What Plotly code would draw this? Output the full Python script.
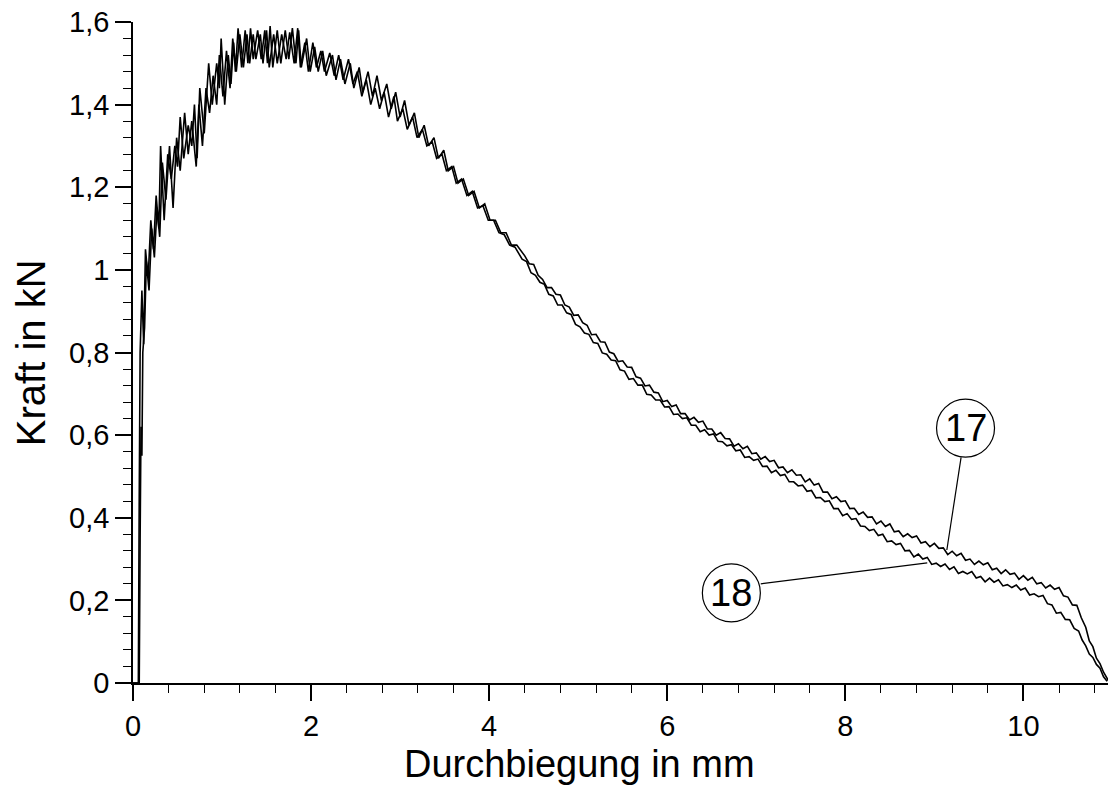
import plotly.graph_objects as go

# ---- data (curve 17 and curve 18) ----
x17 = [0.00, 0.06, 0.07, 0.08, 0.10, 0.12, 0.14, 0.17, 0.20, 0.23, 0.26, 0.29, 0.31, 0.35, 0.39, 0.43,
       0.47, 0.50, 0.53, 0.57, 0.62, 0.66, 0.69, 0.72, 0.75, 0.80, 0.85, 0.89, 0.94, 0.97, 0.99, 1.03,
       1.07, 1.10, 1.13, 1.15, 1.18, 1.22, 1.26, 1.29, 1.32, 1.35, 1.40, 1.44, 1.48, 1.51, 1.54, 1.57,
       1.62, 1.66, 1.71, 1.75, 1.79, 1.83, 1.86, 1.89, 1.95, 1.99, 2.04, 2.08, 2.13, 2.17, 2.24, 2.28,
       2.33, 2.38, 2.44, 2.48, 2.54, 2.58, 2.64, 2.69, 2.74, 2.79, 2.85, 2.90, 2.95, 3.00, 3.05, 3.10,
       3.16, 3.21, 3.27, 3.32, 3.38, 3.43, 3.49, 3.54, 3.60, 3.65, 3.71, 3.77, 3.83, 3.89, 3.95, 4.01,
       4.07, 4.13, 4.19, 4.25, 4.31,
       4.40, 4.45, 4.50, 4.55, 4.60, 4.65, 4.70, 4.75, 4.80, 4.85, 4.90, 4.95, 5.00, 5.05, 5.10, 5.15,
       5.20, 5.25, 5.30, 5.35, 5.40, 5.45, 5.50, 5.55, 5.60, 5.65, 5.70, 5.75, 5.80, 5.85, 5.90, 5.95,
       6.00, 6.05, 6.10, 6.15, 6.20, 6.25, 6.30, 6.35, 6.40, 6.45, 6.50, 6.55, 6.60, 6.65, 6.70, 6.75,
       6.80, 6.85, 6.90, 6.95, 7.00, 7.05, 7.10, 7.15, 7.20, 7.25, 7.30, 7.35, 7.40, 7.45, 7.50, 7.55,
       7.60, 7.65, 7.70, 7.75, 7.80, 7.85, 7.90, 7.95, 8.00, 8.05, 8.10, 8.15, 8.20, 8.25, 8.30, 8.35,
       8.40, 8.45, 8.50, 8.55, 8.60, 8.65, 8.70, 8.75, 8.80, 8.85, 8.90, 8.95, 9.00, 9.05, 9.10, 9.15,
       9.20, 9.25, 9.30, 9.35, 9.40, 9.45, 9.50, 9.55, 9.60, 9.65, 9.70, 9.75, 9.80, 9.85, 9.90, 9.95,
       10.00, 10.05, 10.10, 10.15, 10.20, 10.25, 10.30, 10.35, 10.40, 10.45, 10.50, 10.55, 10.60, 10.65,
       10.70, 10.74, 10.78, 10.82, 10.86, 10.90, 10.94, 10.97]
y17 = [0.00, 0.00, 0.45, 0.80, 0.95, 0.82, 1.05, 0.98, 1.12, 1.05, 1.18, 1.10, 1.30, 1.12, 1.28, 1.22,
       1.30, 1.25, 1.37, 1.27, 1.35, 1.30, 1.40, 1.27, 1.44, 1.33, 1.50, 1.40, 1.50, 1.44, 1.56, 1.40,
       1.52, 1.45, 1.55, 1.48, 1.585, 1.49, 1.58, 1.50, 1.585, 1.51, 1.58, 1.51, 1.58, 1.50, 1.59, 1.49,
       1.58, 1.50, 1.58, 1.51, 1.585, 1.50, 1.58, 1.49, 1.56, 1.48, 1.54, 1.48, 1.53, 1.47, 1.52, 1.46,
       1.51, 1.45, 1.50, 1.44, 1.49, 1.43, 1.48, 1.42, 1.47, 1.41, 1.45, 1.39, 1.43, 1.37, 1.41, 1.35,
       1.38, 1.32, 1.35, 1.30, 1.32, 1.27, 1.29, 1.24, 1.25, 1.21, 1.22, 1.18, 1.19, 1.15, 1.16, 1.12,
       1.12, 1.09, 1.09, 1.06, 1.06,
       1.034, 1.015, 1.013, 0.987, 0.977, 0.957, 0.957, 0.941, 0.939, 0.915, 0.910, 0.890, 0.891, 0.872, 0.866, 0.843,
       0.844, 0.826, 0.825, 0.801, 0.797, 0.778, 0.780, 0.765, 0.764, 0.741, 0.738, 0.719, 0.721, 0.704, 0.702, 0.681,
       0.684, 0.669, 0.673, 0.652, 0.652, 0.637, 0.643, 0.631, 0.634, 0.615, 0.615, 0.600, 0.606, 0.592, 0.591, 0.573,
       0.579, 0.567, 0.573, 0.555, 0.557, 0.542, 0.548, 0.536, 0.539, 0.521, 0.523, 0.509, 0.516, 0.503, 0.504, 0.487,
       0.494, 0.479, 0.483, 0.462, 0.462, 0.446, 0.451, 0.439, 0.441, 0.422, 0.423, 0.408, 0.414, 0.401, 0.402, 0.385,
       0.392, 0.379, 0.385, 0.366, 0.368, 0.354, 0.361, 0.352, 0.356, 0.339, 0.342, 0.330, 0.338, 0.326, 0.327, 0.311,
       0.319, 0.308, 0.314, 0.297, 0.300, 0.287, 0.295, 0.286, 0.291, 0.274, 0.278, 0.265, 0.274, 0.263, 0.266, 0.251,
       0.260, 0.249, 0.256, 0.240, 0.243, 0.230, 0.237, 0.227, 0.231, 0.211, 0.208, 0.189, 0.188, 0.158,
       0.135, 0.102, 0.088, 0.060, 0.047, 0.026, 0.012, 0.0]

x18 = [0.00, 0.07, 0.08, 0.09, 0.10, 0.11, 0.13, 0.15, 0.18, 0.21, 0.24, 0.27, 0.30, 0.33, 0.37, 0.41,
       0.45, 0.49, 0.53, 0.58, 0.62, 0.66, 0.71, 0.74, 0.78, 0.82, 0.86, 0.90, 0.94, 0.97, 1.01, 1.05,
       1.09, 1.12, 1.16, 1.20, 1.24, 1.28, 1.31, 1.35, 1.38, 1.43, 1.46, 1.50, 1.53, 1.58, 1.62, 1.67,
       1.72, 1.76, 1.81, 1.85, 1.88, 1.93, 1.97, 2.02, 2.06, 2.11, 2.15, 2.21, 2.26, 2.31, 2.36, 2.42,
       2.47, 2.52, 2.57, 2.62, 2.67, 2.72, 2.77, 2.82, 2.87, 2.93, 2.97, 3.03, 3.08, 3.14, 3.19, 3.25,
       3.30, 3.36, 3.41, 3.47, 3.52, 3.58, 3.63, 3.69, 3.75, 3.81, 3.87, 3.93, 3.99, 4.05, 4.11, 4.17,
       4.23, 4.29,
       4.37, 4.42, 4.47, 4.52, 4.57, 4.62, 4.67, 4.72, 4.77, 4.82, 4.87, 4.92, 4.97, 5.02, 5.07, 5.12,
       5.17, 5.22, 5.27, 5.32, 5.37, 5.42, 5.47, 5.52, 5.57, 5.62, 5.67, 5.72, 5.77, 5.82, 5.87, 5.92,
       5.97, 6.02, 6.07, 6.12, 6.17, 6.22, 6.27, 6.32, 6.37, 6.42, 6.47, 6.52, 6.57, 6.62, 6.67, 6.72,
       6.77, 6.82, 6.87, 6.92, 6.97, 7.02, 7.07, 7.12, 7.17, 7.22, 7.27, 7.32, 7.37, 7.42, 7.47, 7.52,
       7.57, 7.62, 7.67, 7.72, 7.77, 7.82, 7.87, 7.92, 7.97, 8.02, 8.07, 8.12, 8.17, 8.22, 8.27, 8.32,
       8.37, 8.42, 8.47, 8.52, 8.57, 8.62, 8.67, 8.72, 8.77, 8.82, 8.87, 8.92, 8.97, 9.02, 9.07, 9.12,
       9.17, 9.22, 9.27, 9.32, 9.37, 9.42, 9.47, 9.52, 9.57, 9.62, 9.67, 9.72, 9.77, 9.82, 9.87, 9.92,
       9.97, 10.02, 10.07, 10.12, 10.17, 10.22, 10.27, 10.32, 10.37, 10.42, 10.47, 10.52, 10.57, 10.62,
       10.66, 10.70, 10.74, 10.78, 10.82, 10.86, 10.90, 10.94]
y18 = [0.00, 0.00, 0.35, 0.62, 0.55, 0.80, 0.86, 1.02, 0.95, 1.10, 1.03, 1.15, 1.08, 1.26, 1.17, 1.30,
       1.15, 1.32, 1.24, 1.38, 1.28, 1.36, 1.25, 1.40, 1.30, 1.44, 1.38, 1.47, 1.40, 1.52, 1.42, 1.53,
       1.44, 1.56, 1.48, 1.57, 1.49, 1.57, 1.50, 1.57, 1.51, 1.57, 1.50, 1.58, 1.49, 1.57, 1.50, 1.57,
       1.51, 1.575, 1.50, 1.585, 1.49, 1.55, 1.48, 1.55, 1.49, 1.53, 1.48, 1.525, 1.47, 1.52, 1.46, 1.51,
       1.45, 1.48, 1.42, 1.46, 1.40, 1.44, 1.39, 1.43, 1.37, 1.42, 1.36, 1.39, 1.34, 1.37, 1.32, 1.34,
       1.30, 1.31, 1.27, 1.28, 1.24, 1.25, 1.21, 1.22, 1.18, 1.19, 1.15, 1.155, 1.12, 1.12, 1.09, 1.085,
       1.06, 1.055,
       1.026, 1.020, 0.993, 0.987, 0.970, 0.965, 0.941, 0.937, 0.915, 0.915, 0.896, 0.892, 0.868, 0.862, 0.847, 0.844,
       0.824, 0.822, 0.799, 0.796, 0.782, 0.780, 0.758, 0.755, 0.735, 0.737, 0.721, 0.721, 0.699, 0.697, 0.685, 0.685,
       0.668, 0.669, 0.650, 0.651, 0.640, 0.642, 0.624, 0.624, 0.608, 0.613, 0.600, 0.603, 0.585, 0.584, 0.574, 0.577,
       0.562, 0.564, 0.546, 0.548, 0.539, 0.542, 0.524, 0.525, 0.509, 0.515, 0.502, 0.505, 0.487, 0.487, 0.477, 0.479,
       0.464, 0.466, 0.448, 0.449, 0.439, 0.441, 0.422, 0.422, 0.405, 0.410, 0.396, 0.398, 0.380, 0.379, 0.369, 0.372,
       0.357, 0.360, 0.342, 0.344, 0.335, 0.338, 0.320, 0.321, 0.305, 0.312, 0.300, 0.304, 0.287, 0.290, 0.282, 0.288,
       0.275, 0.281, 0.265, 0.270, 0.264, 0.270, 0.254, 0.258, 0.245, 0.254, 0.244, 0.250, 0.235, 0.238, 0.231, 0.237,
       0.225, 0.230, 0.213, 0.216, 0.209, 0.212, 0.192, 0.189, 0.169, 0.171, 0.154, 0.153, 0.132, 0.126,
       0.104, 0.090, 0.070, 0.062, 0.045, 0.036, 0.015, 0.004]

x_ticks = [0, 2, 4, 6, 8, 10]
y_ticks = [0, 0.2, 0.4, 0.6, 0.8, 1.0, 1.2, 1.4, 1.6]
y_tick_text = ["0", "0,2", "0,4", "0,6", "0,8", "1", "1,2", "1,4", "1,6"]
labels = ["17", "18"]

FONT = "Liberation Sans, Arial, sans-serif"

fig = go.Figure()
fig.add_trace(go.Scatter(x=x17, y=y17, mode="lines", line=dict(color="black", width=1.6), name="17"))
fig.add_trace(go.Scatter(x=x18, y=y18, mode="lines", line=dict(color="black", width=1.6), name="18"))

# label circles + leader lines
circ = [(labels[0], 9.35, 0.617, (9.30, 0.546), (9.14, 0.322)),
        (labels[1], 6.72, 0.218, (7.05, 0.240), (8.92, 0.291))]
for txt, cx, cy, p0, p1 in circ:
    fig.add_shape(type="line", xref="x", yref="y", x0=p0[0], y0=p0[1], x1=p1[0], y1=p1[1],
                  line=dict(color="black", width=1.2))
    fig.add_shape(type="circle", xref="x", yref="y", xsizemode="pixel", ysizemode="pixel",
                  xanchor=cx, yanchor=cy, x0=-29, x1=29, y0=-29, y1=29,
                  line=dict(color="black", width=1.2), fillcolor="white")
    fig.add_annotation(x=cx, y=cy, xref="x", yref="y", text=txt, showarrow=False,
                       font=dict(family=FONT, size=38, color="black"))

# axis titles as annotations
fig.add_annotation(xref="paper", yref="paper", x=0.458, y=-0.1225, text="Durchbiegung in mm",
                   showarrow=False, yanchor="middle", xanchor="center",
                   font=dict(family=FONT, size=38, color="black"))
fig.add_annotation(xref="paper", yref="paper", x=-0.105, y=0.50, text="Kraft in kN", textangle=-90,
                   showarrow=False, yanchor="middle", xanchor="center",
                   font=dict(family=FONT, size=40, color="black"))

fig.update_layout(
    width=1110, height=790,
    margin=dict(l=133, r=2, t=22, b=107),
    paper_bgcolor="white", plot_bgcolor="white",
    showlegend=False,
    font=dict(family=FONT, color="black"),
)
fig.update_xaxes(range=[0, 10.95], showgrid=False, zeroline=False, showline=True,
                 linecolor="black", linewidth=1.5, ticks="outside", ticklen=16, tickwidth=1.5,
                 tickcolor="black", tickvals=x_ticks, ticktext=[str(v) for v in x_ticks],
                 tickfont=dict(family=FONT, size=29, color="black"),
                 minor=dict(ticks="outside", ticklen=8, tickwidth=1.3, tickcolor="black", dtick=0.4, tick0=0))
fig.update_yaxes(range=[0, 1.6], showgrid=False, zeroline=False, showline=True,
                 linecolor="black", linewidth=1.5, ticks="outside", ticklen=16, tickwidth=1.5,
                 tickcolor="black", tickvals=y_ticks, ticktext=y_tick_text,
                 tickfont=dict(family=FONT, size=29, color="black"),
                 minor=dict(ticks="outside", ticklen=8, tickwidth=1.3, tickcolor="black", dtick=0.04, tick0=0))

fig.write_html("out.html")
